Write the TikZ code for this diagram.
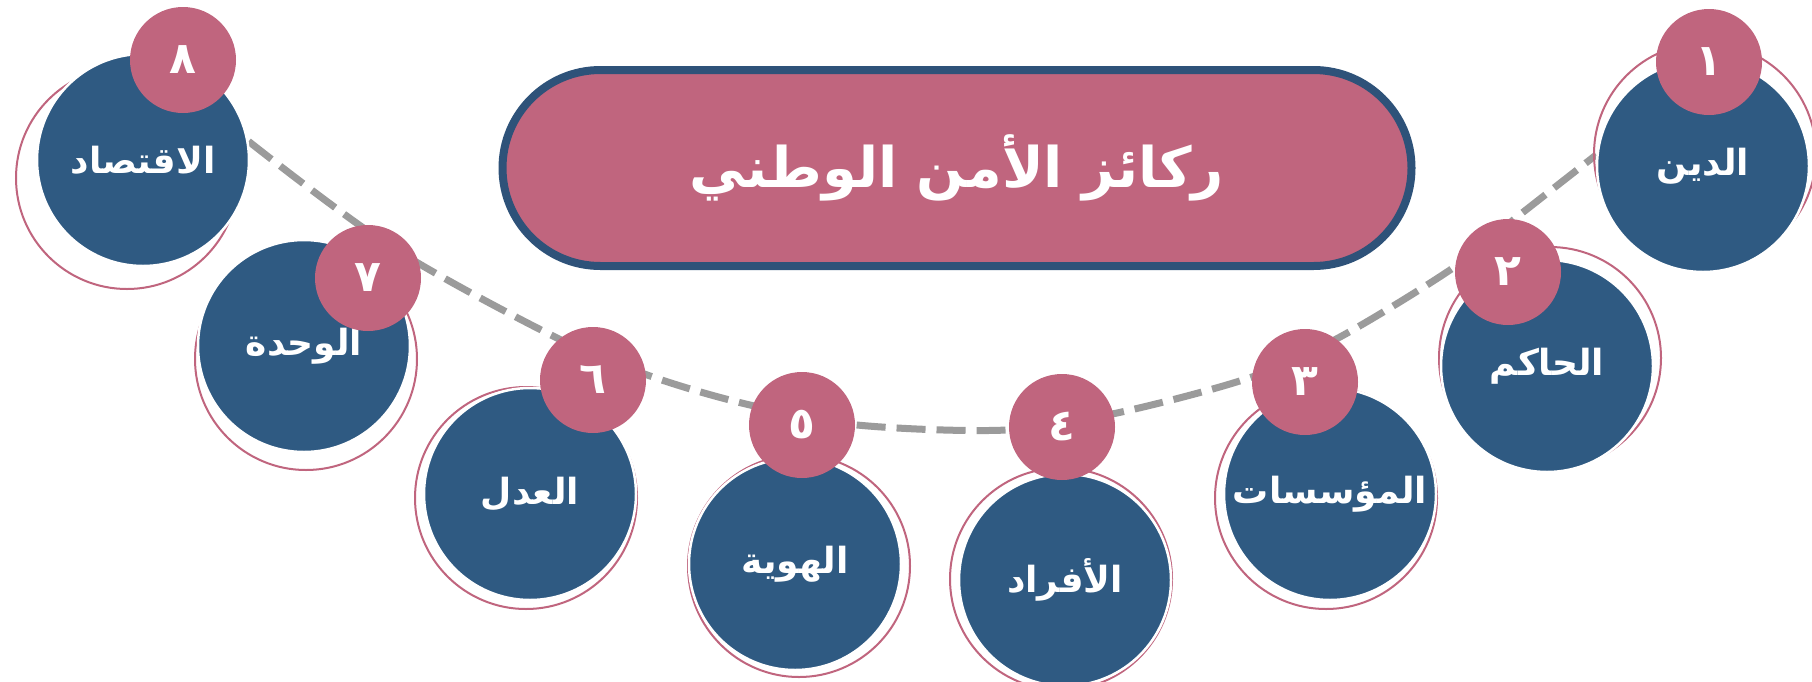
\documentclass[tikz,border=0pt]{standalone}
\usepackage{fontspec}
\newfontfamily\arabicfont[Script=Arabic]{DejaVu Sans}
\TeXXeTstate=1
\usetikzlibrary{backgrounds}

\definecolor{pillarblue}{HTML}{2F5A82}
\definecolor{frameblue}{HTML}{2E5279}
\definecolor{rosepink}{HTML}{C0657E}
\definecolor{dashgrey}{HTML}{9B9B9B}

\tikzset{
  pillar/.style={circle, fill=pillarblue, draw=white, line width=2.5pt,
    minimum size=212pt, inner sep=0pt, text=white,
    font=\arabicfont\bfseries\fontsize{36}{40}\selectfont},
  halo/.style={circle, draw=rosepink, line width=2pt, minimum size=222pt, inner sep=0pt},
  badge/.style={circle, fill=rosepink, minimum size=106pt, inner sep=0pt, text=white,
    font=\arabicfont\bfseries\fontsize{44}{46}\selectfont},
  titlebox/.style={rectangle, rounded corners=98pt, fill=rosepink, draw=frameblue,
    line width=8pt, minimum width=909pt, minimum height=196pt, text=white,
    font=\arabicfont\bfseries\fontsize{56}{62}\selectfont},
  trail/.style={draw=dashgrey, line width=7pt, dash pattern=on 29pt off 11pt}
}

\begin{document}
\begin{tikzpicture}[x=1pt,y=-1pt]
  \useasboundingbox (0,0) rectangle (1812,681);

  % title
  \node[titlebox] (title) at (957,168) {\beginR ركائز الأمن الوطني\endR};

  % the eight pillars
  \foreach \k/\cx/\cy/\bx/\by/\ox/\oy/\num/\word in {
      1/1703/166/1709/62/2/-12/١/الدين,
      2/1547/366/1508/272/3/-8/٢/الحاكم,
      3/1330/494/1305/382/-4/4/٣/المؤسسات,
      4/1065/580/1062/427/-4/-1/٤/الأفراد,
      5/795/564/802/425/4/2/٥/الهوية,
      6/530/494/593/380/-4/4/٦/العدل,
      7/304/346/368/278/2/13/٧/الوحدة,
      8/143/160/183/60/-16/18/٨/الاقتصاد} {
    \node[halo] (h\k) at (\cx+\ox,\cy+\oy) {};
    \node[pillar] (c\k) at (\cx,\cy) {\beginR\word\endR};
    \node[badge] (b\k) at (\bx,\by) {\num};
  }

  \begin{scope}[on background layer]
    \fill[white] (0,0) rectangle (1812,681);
    \draw[trail] plot[smooth, tension=0.55] coordinates {(c8.10) (390,246) (557,338)
      (653,377) (750,405) (857,425) (1007,430) (1117,413) (1252,377) (1340,337)
      (1453,268) (1517,217) (c1.174)};
  \end{scope}
\end{tikzpicture}
\end{document}
